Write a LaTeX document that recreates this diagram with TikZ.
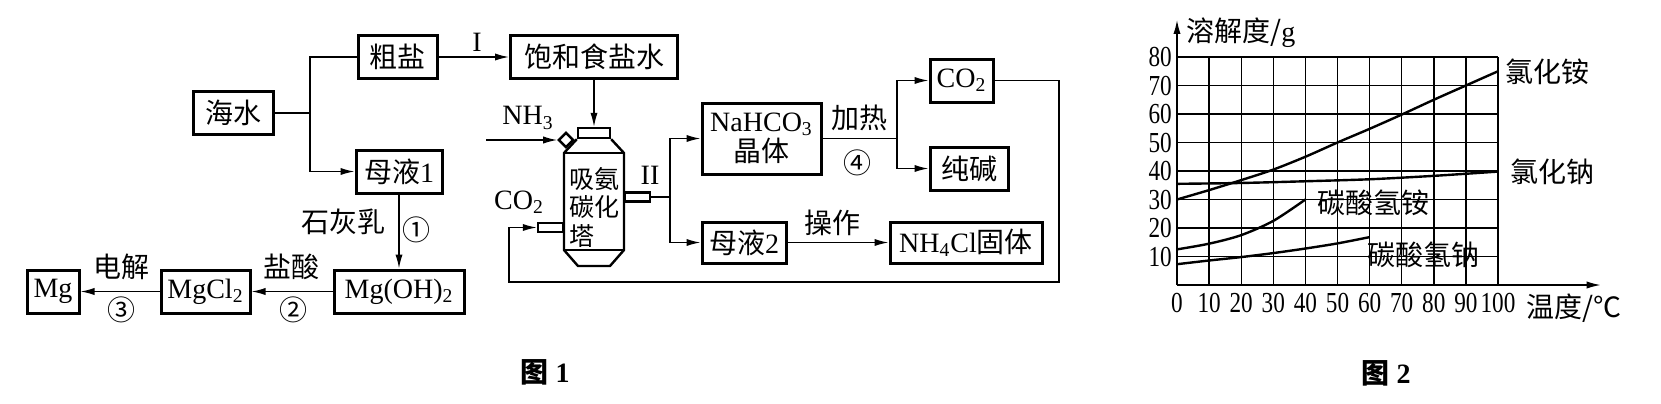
\documentclass[tikz,border=0pt]{standalone}
\usepackage{fontspec}
\setmainfont{Liberation Serif}
\newfontfamily\cjk{Noto Sans CJK SC}
\newfontfamily\numfont{Liberation Serif}[FakeStretch=0.8]
\newcommand{\zh}[1]{{\cjk #1}}
\usetikzlibrary{arrows.meta, positioning}

\begin{document}
\begin{tikzpicture}[x=0.5pt,y=-0.5pt,
		font=\fontsize{14}{17}\selectfont,
		box/.style={draw,line width=1.5pt,minimum height=21.5pt,inner sep=0pt},
		line/.style={line width=0.7pt},
		arr/.style={line width=0.7pt,-{Latex[length=7pt,width=3.6pt]}},
		tower/.style={line width=1.2pt},
		stub/.style={draw,line width=1.1pt,inner sep=0pt,minimum width=12.5pt,minimum height=4.5pt},
		gridl/.style={line width=0.7pt},
		ticklab/.style={inner sep=0pt,font=\fontsize{14.5}{17}\selectfont\numfont},
		curve/.style={line width=1.2pt}]
		\fill[white] (0,0) rectangle (1661,403);
		\useasboundingbox (0,0) rectangle (1661,403);
		
		\node[box,minimum width=40pt] (haishui) at (233,113) {\zh{海水}};
		\node[box,minimum width=39.5pt] (cuyan) at (397.5,57) {\zh{粗盐}};
		\node[box,minimum width=43pt] (muye1) at (399,171.5) {\zh{母液}1};
		\node[box,minimum width=65pt] (mgoh) at (399,291.5) {Mg(OH)\textsubscript{2}};
		\node[box,minimum width=44.5pt] (mgcl2) at (205.5,291.5) {MgCl\textsubscript{2}};
		\node[box,minimum width=26pt] (mg) at (53,291.5) {Mg};
		\node[box,minimum width=83.5pt] (baohe) at (594,57) {\zh{饱和食盐水}};
		\node[box,minimum width=59.5pt,minimum height=35.5pt,align=center,font=\fontsize{14}{15}\selectfont] (nahco3) at (761.5,138.5) {NaHCO\textsubscript{3}\\\zh{晶体}};
		\node[box,minimum width=31.5pt] (co2b) at (961.5,80.5) {CO\textsubscript{2}};
		\node[box,minimum width=39pt] (chunjian) at (969,168.5) {\zh{纯碱}};
		\node[box,minimum width=42pt,minimum height=20.5pt] (muye2) at (744,242.5) {\zh{母液}2};
		\node[box,minimum width=76pt,minimum height=20.5pt] (nh4cl) at (966,242.5) {NH\textsubscript{4}Cl\zh{固体}};
		
		\node[draw,tower,inner sep=0pt,minimum width=16pt,minimum height=5pt] (cap) at (594,133) {};
		\draw[tower] (cap.south west) -- (564,153) -- (564,250) -- (578,266) -- (610,266) -- (624,250) -- (624,153) -- (cap.south east);
		\draw[tower] (564,153) -- (624,153) (564,250) -- (624,250);
		\node[draw,tower,inner sep=0pt,minimum size=5pt,rotate=45] (valve) at (566,140) {};
		\node[stub,anchor=west] (stubout) at (624,197) {};
		\node[stub,anchor=east] (stubin) at (564,227.5) {};
		\node[align=left,inner sep=0pt,font=\fontsize{12.5}{14.25}\selectfont\cjk] (towertext) at (594,207) {吸氨\\碳化\\塔};
		
		\coordinate (br1) at (310,113);
		\coordinate (nh3in) at (486,140);
		\coordinate (split) at (670,197);
		\coordinate (heat) at (897,138.5);
		\coordinate (ret) at (1059,282);
		\coordinate (retl) at (509,282);
		
		\draw[line] (haishui.east) -- (br1);
		\draw[arr] (cuyan.west) -| (br1) |- (muye1.west);
		\draw[arr] (cuyan.east) -- (baohe.west);
		\draw[arr] (baohe.south) -- (cap.north);
		\draw[arr] (nh3in) -- (valve.north west);
		\draw[line] (stubout.east) -- (split);
		\draw[arr] (split) |- (nahco3.west);
		\draw[arr] (split) |- (muye2.west);
		\draw[line] (nahco3.east) -- (heat);
		\draw[arr] (heat) |- (co2b.west);
		\draw[arr] (heat) |- (chunjian.west);
		\draw[arr] (co2b.east) -| (ret) -- (retl) |- (stubin.west);
		\draw[arr] (muye2.east) -- (nh4cl.west);
		\draw[arr] (muye1.south) -- (mgoh.north);
		\draw[arr] (mgoh.west) -- (mgcl2.east);
		\draw[arr] (mgcl2.west) -- (mg.east);
		
		\node (lI) at (477,42) {I};
		\node (lnh3) at (528,118) {NH\textsubscript{3}};
		\node (lco2) at (519,202) {CO\textsubscript{2}};
		\node (lII) at (650,175) {II};
		\node (lheat) at (859,118) {\zh{加热}};
		\node (l4) at (857,163) {\zh{④}};
		\node (lop) at (832,223) {\zh{操作}};
		\node (llime) at (343,222) {\zh{石灰乳}};
		\node (l1) at (416,230) {\zh{①}};
		\node (lhcl) at (291,267) {\zh{盐酸}};
		\node (l2) at (293,310) {\zh{②}};
		\node (lelec) at (121,267) {\zh{电解}};
		\node (l3) at (121,310) {\zh{③}};
		\node[font=\fontsize{14}{17}\selectfont\bfseries] (fig1) at (545,372) {\zh{图}\ 1};
		\node[font=\fontsize{14}{17}\selectfont\bfseries] (fig2) at (1386,373) {\zh{图}\ 2};
		
		\begin{scope}[shift={(1177,285)},x=1.605pt,y=1.425pt]
			\foreach \t in {10,20,...,100}
				\draw[gridl] (\t,0) -- (\t,80);
			\foreach \v in {10,20,...,80}
				\draw[gridl] (0,\v) -- (100,\v);
			\draw[arr] (0,0) -- (132,0);
			\draw[arr] (0,0) -- (0,93);
			\foreach \t in {0,10,...,100}
				\node[ticklab] (tx\t) at (\t,-6.3) {\t};
			\foreach \v in {10,20,...,80}
				\node[ticklab,anchor=east] (ty\v) at (-1.5,\v) {\v};
			\node[anchor=west,inner sep=0pt] (ylab) at (2.8,88.4) {\zh{溶解度/}g};
			\node[anchor=west,inner sep=0pt] (xlab) at (108.7,-8.1) {\zh{温度/℃}};
			\draw[curve] plot[smooth] coordinates {(0,30) (10,33.3) (20,36.8) (30,40.5) (40,45) (50,50) (60,54.8) (70,59.8) (80,65) (90,70) (100,75)};
			\draw[curve] plot[smooth] coordinates {(0,35.5) (20,35.8) (40,36.4) (60,37.1) (80,38.3) (100,39.8)};
			\draw[curve] plot[smooth] coordinates {(0,12.5) (10,14.5) (20,17.5) (30,22.5) (40,30)};
			\draw[curve] plot[smooth] coordinates {(0,7.3) (10,8.6) (20,9.8) (30,11.2) (40,12.8) (50,14.6) (60,16.8)};
			\node[anchor=west,inner sep=0pt] (lnh4cl) at (102.2,74.7) {\zh{氯化铵}};
			\node[anchor=west,inner sep=0pt] (lnacl) at (103.7,39.6) {\zh{氯化钠}};
			\node[anchor=west,inner sep=0pt] (lnh4hco3) at (43.6,28.8) {\zh{碳酸氢铵}};
			\node[anchor=west,inner sep=0pt] (lnahco3) at (59.2,10.5) {\zh{碳酸氢钠}};
		\end{scope}
		
	\end{tikzpicture}
\end{document}
